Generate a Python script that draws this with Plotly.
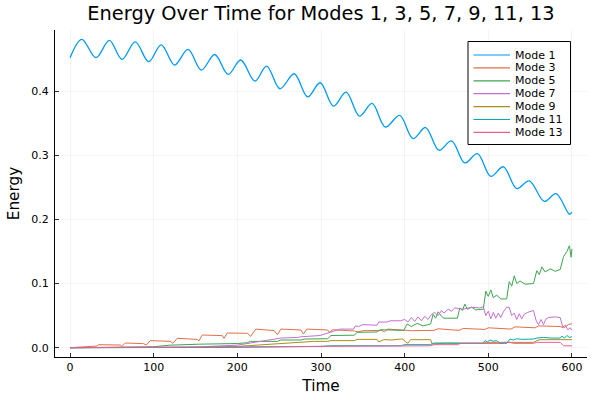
import plotly.graph_objects as go

# ---------------- data ----------------
names = ["Mode 1", "Mode 3", "Mode 5", "Mode 7", "Mode 9", "Mode 11", "Mode 13"]
colors = ["#009AFA", "#E36F47", "#3EA44E", "#C371D2", "#AC8E18", "#00AAAE", "#ED5E93"]

t1 = [0, 14, 31, 47, 62, 78, 94, 109, 125, 141, 157, 173, 189, 204, 221, 235, 251, 268, 284, 299,
      315, 330, 346, 361, 377, 394, 410, 425, 441, 456, 472, 487, 503, 518, 534, 549, 567, 581, 597, 600]
e1 = [0.452, 0.4807, 0.452, 0.479, 0.4495, 0.4766, 0.4458, 0.472, 0.4406, 0.465, 0.4328, 0.457, 0.426,
      0.4484, 0.4156, 0.439, 0.4036, 0.427, 0.391, 0.413, 0.3766, 0.3984, 0.361, 0.3807, 0.344, 0.362,
      0.326, 0.3432, 0.3078, 0.3224, 0.288, 0.3026, 0.267, 0.282, 0.248, 0.26, 0.228, 0.240, 0.208, 0.2115]

t3 = [0, 32, 34, 60, 62, 66, 88, 91, 96, 120, 123, 128, 152, 154, 158, 182, 184, 188, 212, 216, 222,
      244, 248, 252, 276, 279, 283, 308, 310, 314, 340, 344, 350, 372, 376, 380, 403, 408, 435, 440,
      465, 470, 496, 500, 527, 532, 556, 560, 586, 590, 596, 600]
e3 = [0.0, 0.0026, 0.0047, 0.0042, 0.0021, 0.0073, 0.0063, 0.0042, 0.011, 0.0099, 0.0068, 0.0146,
      0.013, 0.0104, 0.0198, 0.0188, 0.0146, 0.0229, 0.0225, 0.0177, 0.029, 0.0266, 0.0203, 0.029,
      0.0276, 0.0214, 0.029, 0.0276, 0.024, 0.028, 0.026, 0.0245, 0.0265, 0.027, 0.025, 0.029, 0.027,
      0.0265, 0.027, 0.0295, 0.027, 0.030, 0.0285, 0.031, 0.029, 0.0325, 0.031, 0.034, 0.033, 0.031,
      0.036, 0.0375]

t5 = [0, 100, 120, 152, 155, 200, 212, 216, 248, 252, 276, 280, 308, 312, 340, 343, 367, 371, 399,
      403, 408, 415, 422, 431, 434, 437, 440, 444, 447, 463, 466, 469, 472, 475, 480, 485, 494, 497,
      500, 503, 506, 510, 515, 522, 525, 528, 531, 534, 538, 544, 554, 558, 561, 564, 568, 574, 580,
      586, 590, 594, 597, 599, 600]
e5 = [0.0, 0.0015, 0.004, 0.0045, 0.0055, 0.0065, 0.0078, 0.0099, 0.0099, 0.012, 0.012, 0.0135,
      0.014, 0.019, 0.0195, 0.024, 0.0245, 0.028, 0.027, 0.037, 0.033, 0.038, 0.034, 0.037, 0.052,
      0.046, 0.056, 0.049, 0.046, 0.046, 0.062, 0.058, 0.068, 0.060, 0.063, 0.059, 0.060, 0.088, 0.080,
      0.090, 0.078, 0.082, 0.076, 0.076, 0.103, 0.096, 0.112, 0.100, 0.104, 0.099, 0.100, 0.120, 0.114,
      0.126, 0.118, 0.123, 0.119, 0.122, 0.142, 0.150, 0.159, 0.141, 0.154]

t7 = [0, 150, 200, 236, 252, 272, 276, 299, 307, 312, 323, 339, 341, 345, 350, 367, 369, 379, 383,
      395, 400, 404, 408, 412, 416, 420, 424, 428, 432, 436, 440, 444, 447, 452, 456, 460, 470, 480,
      490, 494, 497, 500, 503, 506, 509, 512, 515, 518, 522, 525, 528, 531, 534, 537, 540, 543, 547,
      554, 557, 560, 563, 566, 569, 572, 580, 586, 589, 592, 595, 598, 600]
e7 = [0.0, 0.001, 0.004, 0.011, 0.015, 0.016, 0.017, 0.019, 0.022, 0.024, 0.029, 0.029, 0.034, 0.033,
      0.036, 0.035, 0.040, 0.040, 0.042, 0.042, 0.044, 0.040, 0.047, 0.041, 0.048, 0.042, 0.049, 0.044,
      0.052, 0.055, 0.050, 0.058, 0.054, 0.060, 0.057, 0.062, 0.060, 0.063, 0.062, 0.064, 0.050, 0.057,
      0.045, 0.055, 0.046, 0.054, 0.047, 0.056, 0.063, 0.063, 0.050, 0.054, 0.044, 0.053, 0.045, 0.052,
      0.055, 0.058, 0.043, 0.036, 0.044, 0.036, 0.045, 0.047, 0.048, 0.047, 0.032, 0.035, 0.028, 0.031,
      0.027]

t9 = [0, 150, 200, 244, 272, 284, 292, 308, 312, 340, 343, 367, 369, 375, 385, 395, 398, 401, 404,
      407, 431, 433, 450, 470, 490, 514, 520, 554, 558, 562, 600]
e9 = [0.0, 0.0005, 0.002, 0.0057, 0.0083, 0.0085, 0.0099, 0.0099, 0.011, 0.011, 0.013, 0.013, 0.009,
      0.0125, 0.012, 0.0135, 0.0135, 0.009, 0.007, 0.0125, 0.0125, 0.0057, 0.007, 0.0065, 0.007,
      0.0068, 0.0083, 0.0083, 0.011, 0.0125, 0.0125]

t11 = [0, 200, 300, 312, 395, 400, 431, 435, 494, 496, 499, 502, 506, 510, 514, 522, 526, 530, 534,
       540, 554, 558, 566, 575, 586, 588, 591, 594, 597, 600]
e11 = [0.0, 0.0005, 0.002, 0.003, 0.003, 0.0047, 0.0047, 0.0073, 0.0073, 0.011, 0.009, 0.012, 0.010,
       0.011, 0.0068, 0.0068, 0.0135, 0.012, 0.014, 0.013, 0.0135, 0.015, 0.016, 0.015, 0.015, 0.018,
       0.015, 0.019, 0.016, 0.017]

t13 = [0, 200, 300, 395, 431, 435, 463, 467, 494, 498, 526, 530, 554, 558, 586, 590, 600]
e13 = [0.0, 0.001, 0.0015, 0.003, 0.003, 0.0047, 0.0047, 0.0068, 0.0068, 0.0083, 0.0083, 0.0068,
       0.0068, 0.0083, 0.0083, 0.003, 0.003]

x_ticks = [0, 100, 200, 300, 400, 500, 600]
y_ticks = [0.0, 0.1, 0.2, 0.3, 0.4]
y_tick_text = ["0.0", "0.1", "0.2", "0.3", "0.4"]

series_t = [t1, t3, t5, t7, t9, t11, t13]
series_e = [e1, e3, e5, e7, e9, e11, e13]

# ---------------- figure ----------------
FONT = "DejaVu Sans"
W, H = 600, 400
L, R, T, B = 55, 13, 30, 43

fig = go.Figure()
for i, (tt, ee) in enumerate(zip(series_t, series_e)):
    fig.add_trace(go.Scatter(
        x=tt, y=ee, mode="lines", name=names[i],
        line=dict(color=colors[i], width=1.3 if i == 0 else 1.0,
                  shape="spline" if i == 0 else "linear"),
        showlegend=False,
    ))

axis_common = dict(
    showline=True, linecolor="#000000", linewidth=1, mirror=False,
    showgrid=True, gridcolor="rgba(0,0,0,0.07)", gridwidth=0.6,
    zeroline=False, ticks="inside", ticklen=4, tickcolor="#000000", tickwidth=0.8,
    tickfont=dict(family=FONT, size=11, color="#000000"),
    automargin=False,
)

fig.update_xaxes(range=[-18, 618], tickvals=x_ticks, ticktext=[str(v) for v in x_ticks],
                 title=dict(text="Time", font=dict(family=FONT, size=15.3, color="#000000"), standoff=7),
                 **axis_common)
fig.update_yaxes(range=[-0.0145, 0.4952], tickvals=y_ticks, ticktext=y_tick_text,
                 title=dict(text="Energy", font=dict(family=FONT, size=15.3, color="#000000"), standoff=7),
                 ticklabelstandoff=3,
                 **axis_common)

# ---------- custom legend (compact, like the reference) ----------
pw, ph = W - L - R, H - T - B
def px(x):
    return (x - L) / pw
def py(y):
    return (H - B - y) / ph

shapes = [dict(type="rect", xref="paper", yref="paper",
               x0=px(468), x1=px(570.5), y0=py(144.5), y1=py(41.5),
               line=dict(color="#000000", width=1), fillcolor="#ffffff", layer="above")]
annotations = []
row0, step = 55.0, 12.9
for i, nm in enumerate(names):
    yy = row0 + i * step
    shapes.append(dict(type="line", xref="paper", yref="paper",
                       x0=px(473.5), x1=px(510), y0=py(yy), y1=py(yy),
                       line=dict(color=colors[i], width=1.2), layer="above"))
    annotations.append(dict(text=nm, xref="paper", yref="paper", x=px(514), y=py(yy),
                            xanchor="left", yanchor="middle", showarrow=False,
                            height=11, valign="middle", borderpad=0,
                            font=dict(family=FONT, size=11.0, color="#000000")))

fig.update_layout(
    width=W, height=H,
    margin=dict(l=L, r=R, t=T, b=B, pad=0, autoexpand=False),
    paper_bgcolor="#ffffff", plot_bgcolor="#ffffff",
    title=dict(text="Energy Over Time for Modes 1, 3, 5, 7, 9, 11, 13",
               font=dict(family=FONT, size=19.4, color="#000000"),
               x=0.5, xref="paper", xanchor="center", y=1 - 13 / H, yref="container", yanchor="middle"),
    shapes=shapes, annotations=annotations,
    showlegend=False,
)

fig.write_html("out.html", config={"displayModeBar": False, "staticPlot": True},
               post_script="document.body.style.margin='0px';document.body.style.padding='0px';")
